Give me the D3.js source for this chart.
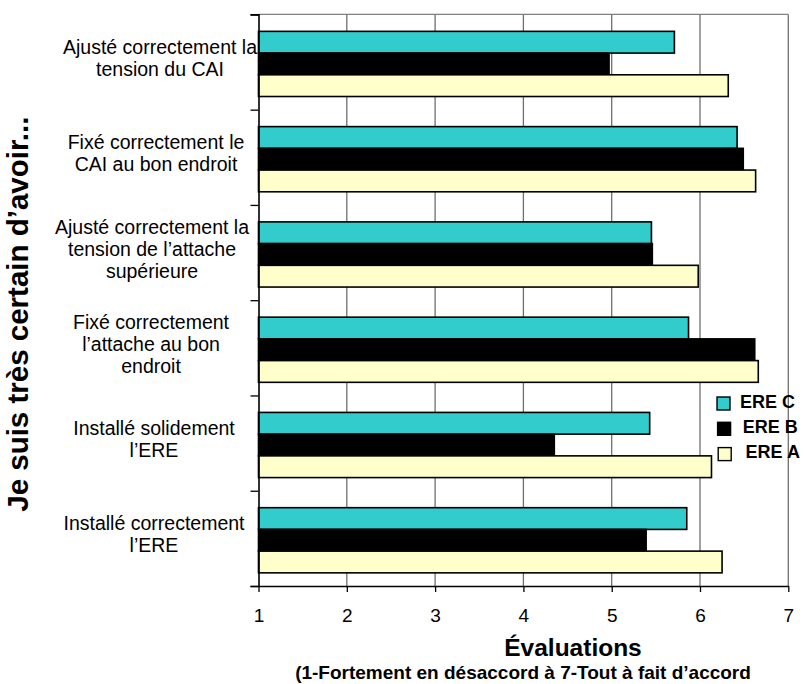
<!DOCTYPE html>
<html>
<head>
<meta charset="utf-8">
<script src="https://cdn.jsdelivr.net/npm/d3@7"></script>
<style>
  html, body { margin: 0; padding: 0; background: #fff; }
  svg { display: block; font-family: "Liberation Sans", Arial, sans-serif; }
</style>
</head>
<body>
<svg id="chart" width="805" height="684"></svg>
<script>
// Category labels, one entry per wrapped line, top to bottom
const categories = [
  ["Ajusté correctement la", "tension du CAI"],
  ["Fixé correctement le", "CAI au bon endroit"],
  ["Ajusté correctement la", "tension de l’attache", "supérieure"],
  ["Fixé correctement", "l’attache au bon", "endroit"],
  ["Installé solidement", "l’ERE"],
  ["Installé correctement", "l’ERE"]
];
const seriesNames = ["ERE C", "ERE B", "ERE A"];
const ereC = [5.71, 6.42, 5.45, 5.87, 5.43, 5.85];
const ereB = [4.97, 6.49, 5.46, 6.62, 4.35, 5.39];
const ereA = [6.32, 6.63, 5.98, 6.66, 6.13, 6.25];
const xTicks = [1, 2, 3, 4, 5, 6, 7];
const seriesColors = ["#33CCCC", "#000000", "#FFFFCC"];

// Horizontal centre of each wrapped label block
const labelCenterX = [160, 156, 152, 151, 154, 154];

const seriesValues = [ereC, ereB, ereA];
const rows = categories.map((c, i) => ({
  idx: i,
  lines: c,
  values: seriesNames.map((s, k) => ({ series: s, k, value: seriesValues[k][i] }))
}));

const svg = d3.select("#chart");
const plot = { left: 258.5, right: 788.3, top: 14.4, bottom: 586 };

const x = d3.scaleLinear().domain([1, 7]).range([plot.left, plot.right]);
const y = d3.scaleBand().domain(d3.range(categories.length))
  .range([plot.top, plot.bottom]).padding(0);
const step = y.step();
const inner = d3.scaleBand().domain(d3.range(seriesNames.length))
  .range([step * 0.178, step * 0.862]).padding(0);

// Gridlines and frame
svg.append("g").selectAll("line").data(xTicks.slice(1)).join("line")
  .attr("x1", d => x(d)).attr("x2", d => x(d))
  .attr("y1", plot.top).attr("y2", plot.bottom)
  .attr("stroke", "#6f6f6f").attr("stroke-width", 1.3);
svg.append("line")
  .attr("x1", plot.left).attr("x2", plot.right)
  .attr("y1", plot.top).attr("y2", plot.top)
  .attr("stroke", "#808080").attr("stroke-width", 1.3);

// Bars
const groups = svg.append("g").selectAll("g").data(rows).join("g")
  .attr("transform", d => `translate(0,${y(d.idx)})`);
groups.selectAll("rect").data(d => d.values).join("rect")
  .attr("x", x(1))
  .attr("y", d => inner(d.k))
  .attr("width", d => x(d.value) - x(1))
  .attr("height", inner.bandwidth())
  .attr("fill", d => seriesColors[d.k])
  .attr("stroke", "#000").attr("stroke-width", 1.6);

// Category axis: ticks at band boundaries
const yEdges = d3.scaleLinear().domain([0, categories.length]).range([plot.top, plot.bottom]);
const yAxis = svg.append("g").attr("transform", `translate(${plot.left},0)`)
  .call(d3.axisLeft(yEdges).tickValues(d3.range(categories.length + 1))
    .tickSize(8).tickFormat(""));
yAxis.select(".domain").attr("stroke", "#000").attr("stroke-width", 1.6);
yAxis.selectAll(".tick line").attr("stroke", "#000").attr("stroke-width", 1.3);

// Value axis
const xAxis = svg.append("g").attr("transform", `translate(0,${plot.bottom})`)
  .call(d3.axisBottom(x).tickValues(xTicks).tickFormat(d3.format("d"))
    .tickSizeInner(6).tickSizeOuter(0).tickPadding(17));
xAxis.select(".domain").attr("stroke", "#000").attr("stroke-width", 1.6);
xAxis.selectAll(".tick line").attr("stroke", "#000").attr("stroke-width", 1.3);
xAxis.selectAll(".tick text").attr("font-size", 19).attr("fill", "#000")
  .attr("font-family", "Liberation Sans, Arial, sans-serif");

// Category labels
const lineH = 22;
svg.append("g").selectAll("text").data(rows).join("text")
  .attr("text-anchor", "middle")
  .attr("font-size", 19.5).attr("fill", "#000")
  .each(function (d) {
    const cy = y(d.idx) + step / 2;
    const first = cy - 8 - (d.lines.length - 2) * lineH / 2;
    d3.select(this).selectAll("tspan").data(d.lines).join("tspan")
      .attr("x", labelCenterX[d.idx])
      .attr("y", (t, j) => first + j * lineH)
      .text(t => t);
  });

// Axis titles
svg.append("text")
  .attr("transform", `translate(28,${(plot.top + plot.bottom) / 2 + 14}) rotate(-90)`)
  .attr("text-anchor", "middle").attr("font-weight", "bold").attr("font-size", 29.5)
  .text("Je suis très certain d’avoir...");
svg.append("text")
  .attr("x", 573).attr("y", 656)
  .attr("text-anchor", "middle").attr("font-weight", "bold").attr("font-size", 24.5)
  .text("Évaluations");
svg.append("text")
  .attr("x", 523).attr("y", 679)
  .attr("text-anchor", "middle").attr("font-weight", "bold").attr("font-size", 19)
  .text("(1-Fortement en désaccord à 7-Tout à fait d’accord");

// Legend
const legend = svg.append("g").selectAll("g").data(seriesNames).join("g")
  .attr("transform", (d, i) => `translate(${717 + i * 0.6},${397 + i * 25.3})`);
legend.append("rect")
  .attr("width", 13).attr("height", 13)
  .attr("fill", (d, i) => seriesColors[i])
  .attr("stroke", "#000").attr("stroke-width", 1.4);
legend.append("text")
  .attr("x", (d, i) => 23 + i * 2.2).attr("y", 10.5)
  .attr("font-weight", "bold").attr("font-size", 18)
  .text(d => d);
</script>
</body>
</html>
